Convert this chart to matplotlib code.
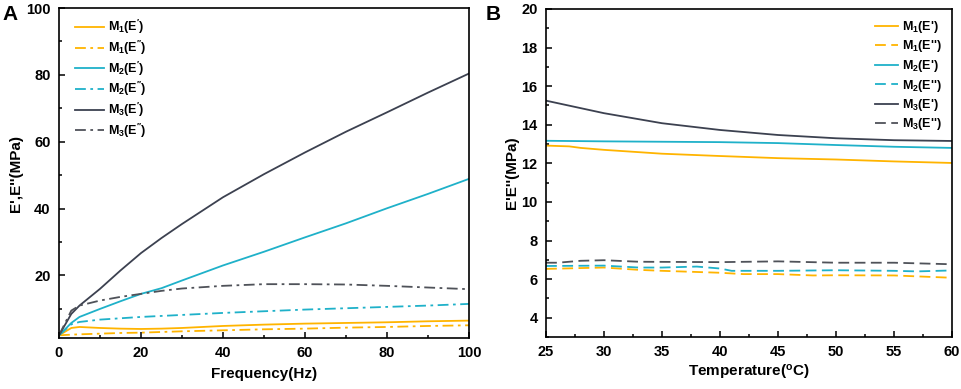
import matplotlib
matplotlib.use("Agg")
import matplotlib.pyplot as plt
from matplotlib.ticker import MultipleLocator

plt.rcParams['font.family'] = ['Liberation Sans', 'DejaVu Sans']
plt.rcParams['font.weight'] = 'bold'
plt.rcParams['mathtext.fontset'] = 'custom'
plt.rcParams['mathtext.rm'] = 'Liberation Sans:bold'
plt.rcParams['mathtext.it'] = 'Liberation Sans:bold'
plt.rcParams['mathtext.bf'] = 'Liberation Sans:bold'
plt.rcParams['mathtext.default'] = 'rm'

# panel A: frequency sweep
freq = [0, 3, 5, 10, 15, 20, 25, 30, 40, 50, 60, 70, 80, 90, 100]
m3_e1 = [2.1, 8.5, 11, 16, 21.5, 26.7, 31.2, 35.4, 43.4, 50.3, 56.8, 63.0, 68.8, 74.7, 80.4]
m2_e1 = [2.1, 5.8, 7.6, 10, 12.3, 14.5, 16.2, 18.5, 23, 27.1, 31.4, 35.6, 40.1, 44.4, 48.9]
m3_e2 = [2.1, 9.5, 11, 12.5, 13.6, 14.5, 15.4, 16.1, 16.9, 17.4, 17.4, 17.3, 16.9, 16.4, 15.9]
m2_e2 = [2.1, 5.4, 6.1, 6.8, 7.2, 7.6, 7.9, 8.2, 8.8, 9.3, 9.8, 10.2, 10.6, 11.0, 11.5]
m1_e1 = [2.1, 4.3, 4.6, 4.3, 4.1, 4.0, 4.1, 4.3, 4.9, 5.3, 5.6, 5.8, 6.0, 6.3, 6.5]
m1_e2 = [2.1, 2.3, 2.4, 2.6, 2.8, 2.9, 3.1, 3.3, 3.6, 3.9, 4.1, 4.4, 4.6, 4.9, 5.1]

# panel B: temperature sweep
temp_m3_e1 = [25, 30, 35, 40, 45, 50, 55, 60]
m3_t_e1 = [15.25, 14.6, 14.08, 13.73, 13.47, 13.3, 13.2, 13.16]
temp_m2_e1 = [25, 30, 35, 40, 45, 50, 55, 60]
m2_t_e1 = [13.17, 13.14, 13.12, 13.1, 13.05, 12.95, 12.86, 12.8]
temp_m1_e1 = [25, 27, 28, 30, 35, 40, 45, 50, 55, 60]
m1_t_e1 = [12.92, 12.88, 12.8, 12.7, 12.5, 12.38, 12.27, 12.2, 12.1, 12.02]
temp_m3_e2 = [25, 26, 28, 30, 33, 40, 45, 50, 55, 60]
m3_t_e2 = [6.85, 6.85, 6.95, 6.98, 6.9, 6.88, 6.92, 6.85, 6.85, 6.77]
temp_m2_e2 = [25, 30, 33, 35, 38, 40, 41, 45, 50, 55, 57, 60]
m2_t_e2 = [6.68, 6.7, 6.6, 6.6, 6.65, 6.55, 6.43, 6.43, 6.46, 6.43, 6.4, 6.45]
temp_m1_e2 = [25, 30, 33, 35, 40, 42, 45, 48, 50, 55, 60]
m1_t_e2 = [6.53, 6.6, 6.48, 6.43, 6.33, 6.26, 6.26, 6.19, 6.2, 6.19, 6.07]

orange = '#FFB400'
cyan = '#1FB1C9'
dark = '#3C4150'
gray = '#4F5259'

fig = plt.figure(figsize=(9.62, 3.89), dpi=100)
ax1 = fig.add_axes([59 / 962, 1 - 338 / 389, 410 / 962, 330 / 389])
ax2 = fig.add_axes([546 / 962, 1 - 337 / 389, 406 / 962, 328 / 389])

lw = 1.3
dd = (0, (6, 2.5, 1.5, 2.5))
p1 = r"E$^{\prime}$"
p2 = r"E$^{\prime\prime}$"
ax1.plot(freq, m1_e1, color=orange, lw=lw, label="M$_1$(" + p1 + ")")
ax1.plot(freq, m1_e2, color=orange, lw=lw, ls=dd, label="M$_1$(" + p2 + ")")
ax1.plot(freq, m2_e1, color=cyan, lw=lw, label="M$_2$(" + p1 + ")")
ax1.plot(freq, m2_e2, color=cyan, lw=lw, ls=dd, label="M$_2$(" + p2 + ")")
ax1.plot(freq, m3_e1, color=dark, lw=lw, label="M$_3$(" + p1 + ")")
ax1.plot(freq, m3_e2, color=gray, lw=lw, ls=dd, label="M$_3$(" + p2 + ")")

ds = (0, (6, 3))
ax2.plot(temp_m1_e1, m1_t_e1, color=orange, lw=lw, label="M$_1$(E')")
ax2.plot(temp_m1_e2, m1_t_e2, color=orange, lw=lw, ls=ds, label="M$_1$(E'')")
ax2.plot(temp_m2_e1, m2_t_e1, color=cyan, lw=lw, label="M$_2$(E')")
ax2.plot(temp_m2_e2, m2_t_e2, color=cyan, lw=lw, ls=ds, label="M$_2$(E'')")
ax2.plot(temp_m3_e1, m3_t_e1, color=dark, lw=lw, label="M$_3$(E')")
ax2.plot(temp_m3_e2, m3_t_e2, color=gray, lw=lw, ls=ds, label="M$_3$(E'')")

ax1.set_xlim(0, 100)
ax1.set_ylim(1.3, 100)
ax1.xaxis.set_major_locator(MultipleLocator(20))
ax1.xaxis.set_minor_locator(MultipleLocator(10))
ax1.yaxis.set_major_locator(MultipleLocator(20))
ax1.yaxis.set_minor_locator(MultipleLocator(10))
ax1.set_xlabel('Frequency(Hz)', fontsize=11, fontweight='bold', labelpad=5)
ax1.set_ylabel("E',E''(MPa)", fontsize=11, fontweight='bold', labelpad=2)

ax2.set_xlim(25, 60)
ax2.set_ylim(3, 20)
ax2.xaxis.set_major_locator(MultipleLocator(5))
ax2.xaxis.set_minor_locator(MultipleLocator(2.5))
ax2.yaxis.set_major_locator(MultipleLocator(2))
ax2.yaxis.set_minor_locator(MultipleLocator(1))
ax2.set_xlabel('Temperature($^{\\mathbf{o}}$C)', fontsize=11, fontweight='bold', labelpad=3)
ax2.set_ylabel("E'E''(MPa)", fontsize=11, fontweight='bold', labelpad=2)

for ax in (ax1, ax2):
    for s in ax.spines.values():
        s.set_linewidth(1.2)
    ax.tick_params(which='both', direction='in', top=False, right=False, width=1.1)
    ax.tick_params(which='major', length=4, labelsize=10.5, pad=6)
    ax.tick_params(which='minor', length=2.5)

ax1.legend(loc='upper left', frameon=False, fontsize=9, handlelength=2.3,
           labelspacing=0.2, handletextpad=0.3, borderaxespad=0.4,
           bbox_to_anchor=(0.015, 1.0))
ax2.legend(loc='upper right', frameon=False, fontsize=9, handlelength=1.9,
           labelspacing=0.28, handletextpad=0.3, borderaxespad=0.4)

fig.text(2 / 962, 1 - 14 / 389, 'A', fontsize=15, fontweight='bold', va='center')
fig.text(486 / 962, 1 - 14 / 389, 'B', fontsize=15, fontweight='bold', va='center')

fig.canvas.draw()
for ax in (ax1, ax2):
    for lab in ax.get_xticklabels() + ax.get_yticklabels():
        lab.set_fontweight('bold')

fig.savefig('out.png', dpi=100)
